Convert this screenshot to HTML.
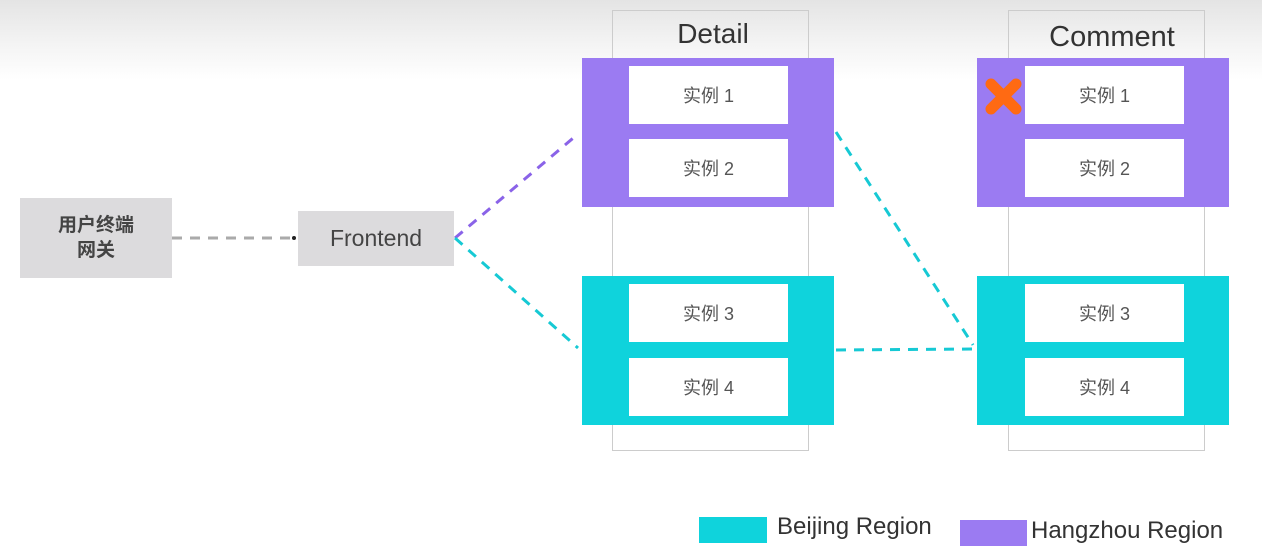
<!DOCTYPE html>
<html><head><meta charset="utf-8"><style>
html,body{margin:0;padding:0}
body{width:1262px;height:559px;position:relative;overflow:hidden;background:linear-gradient(#e4e4e4 0px,#f4f4f4 45px,#fff 80px,#fff 559px);font-family:"Liberation Sans","Noto Sans CJK SC",sans-serif}
.a{position:absolute;box-sizing:border-box}
.col{border:1.5px solid #ccc;background:transparent}
.pur{background:#9b7bf2}
.cy{background:#0fd3dc}
.inst{background:#fff;color:#555;font-size:18px;display:flex;align-items:center;justify-content:center}
.gray{background:#dcdbdd;color:#444;display:flex;align-items:center;justify-content:center;text-align:center}
.t{position:absolute;color:#333}
</style></head><body>
<div class="a col" style="left:612px;top:10px;width:197px;height:441px"></div>
<div class="a col" style="left:1008px;top:10px;width:197px;height:441px"></div>
<div class="t" style="left:612px;top:18px;width:202px;text-align:center;font-size:28px">Detail</div>
<div class="t" style="left:1008px;top:21px;width:208px;text-align:center;font-size:29px">Comment</div>

<div class="a pur" style="left:582px;top:58px;width:252px;height:149px"></div>
<div class="a inst" style="left:629px;top:66px;width:159px;height:58px">实例 1</div>
<div class="a inst" style="left:629px;top:139px;width:159px;height:58px">实例 2</div>
<div class="a cy" style="left:582px;top:276px;width:252px;height:149px"></div>
<div class="a inst" style="left:629px;top:284px;width:159px;height:58px">实例 3</div>
<div class="a inst" style="left:629px;top:358px;width:159px;height:58px">实例 4</div>

<div class="a pur" style="left:977px;top:58px;width:252px;height:149px"></div>
<div class="a inst" style="left:1025px;top:66px;width:159px;height:58px">实例 1</div>
<div class="a inst" style="left:1025px;top:139px;width:159px;height:58px">实例 2</div>
<div class="a cy" style="left:977px;top:276px;width:252px;height:149px"></div>
<div class="a inst" style="left:1025px;top:284px;width:159px;height:58px">实例 3</div>
<div class="a inst" style="left:1025px;top:358px;width:159px;height:58px">实例 4</div>

<div class="a gray" style="left:20px;top:198px;width:152px;height:80px;font-size:19px;font-weight:bold;line-height:25px">用户终端<br>网关</div>
<div class="a gray" style="left:298px;top:211px;width:156px;height:55px;font-size:23px">Frontend</div>

<svg class="a" style="left:0;top:0" width="1262" height="559">
<g fill="none" stroke-width="3" stroke-dasharray="10,8">
<line x1="172" y1="238" x2="294" y2="238" stroke="#aaa"/>
<line x1="455" y1="238" x2="578" y2="134" stroke="#8a63e8"/>
<line x1="455" y1="238" x2="578" y2="348" stroke="#16c9d4"/>
<line x1="836" y1="132" x2="973" y2="345" stroke="#16c9d4"/>
<line x1="836" y1="350" x2="973" y2="349" stroke="#16c9d4"/>
</g>
<circle cx="294" cy="238" r="2" fill="#222"/>
<g stroke="#ff6a13" stroke-width="11" stroke-linecap="round">
<line x1="991" y1="84" x2="1016" y2="109"/><line x1="1016" y1="84" x2="991" y2="109"/>
</g>
</svg>

<div class="a cy" style="left:699px;top:517px;width:68px;height:26px"></div>
<div class="t" style="left:777px;top:513px;font-size:24px">Beijing Region</div>
<div class="a pur" style="left:960px;top:520px;width:67px;height:26px"></div>
<div class="t" style="left:1031px;top:517px;font-size:24px">Hangzhou Region</div>
</body></html>
